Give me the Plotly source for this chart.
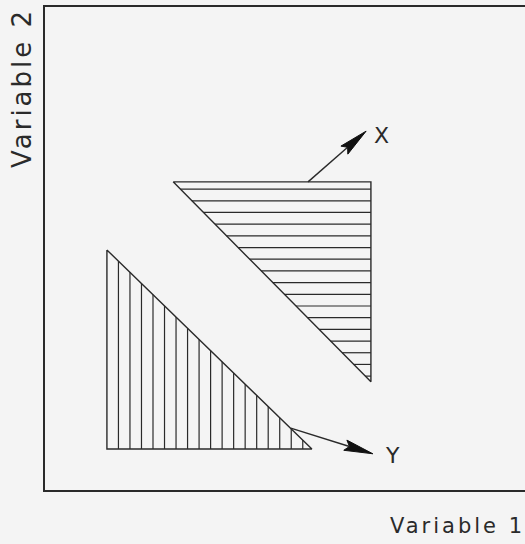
import plotly.graph_objects as go
import numpy as np

# ---- data (diagram coordinates, axis units 0..10) ----
tri_x_x = [2.67, 6.79, 6.79]       # upper triangle "X" vertices
tri_x_y = [6.38, 6.38, 2.24]
tri_y_x = [1.29, 1.29, 5.56]       # lower triangle "Y" vertices
tri_y_y = [4.97, 0.85, 0.85]
arrow_x = [[5.48, 6.38], [6.69, 7.43]]   # tail, tip
arrow_y = [[5.12, 1.28], [6.83, 0.75]]
labels = ["X", "Y"]
label_pos = [[7.02, 7.35], [7.23, 0.72]]
axis_titles = ["Variable 1", "Variable 2"]

LINE = "#2a2a2a"
BG = "#f4f4f4"
FONT = "DejaVu Sans"

fig = go.Figure()

def outline(xs, ys):
    fig.add_trace(go.Scatter(x=xs + [xs[0]], y=ys + [ys[0]], mode="lines",
                             line=dict(color=LINE, width=1.4),
                             hoverinfo="skip", showlegend=False))

outline(tri_x_x, tri_x_y)
outline(tri_y_x, tri_y_y)

# horizontal hatching in upper triangle
hx, hy = [], []
top, bot = tri_x_y[0], tri_x_y[2]
xl, xr = tri_x_x[0], tri_x_x[1]
step = 0.242
yy = top - 0.15
while yy > bot + 0.08:
    xh = xl + (top - yy) * (xr - xl) / (top - bot)
    hx += [xh, xr, None]
    hy += [yy, yy, None]
    yy -= step
fig.add_trace(go.Scatter(x=hx, y=hy, mode="lines", line=dict(color=LINE, width=1.2),
                         hoverinfo="skip", showlegend=False))

# vertical hatching in lower triangle
vx, vy = [], []
x0, x1 = tri_y_x[0], tri_y_x[2]
ytop, ybot = tri_y_y[0], tri_y_y[1]
step = 0.24
xx = x0 + step
while xx < x1 - 0.1:
    yh = ytop - (xx - x0) * (ytop - ybot) / (x1 - x0)
    vx += [xx, xx, None]
    vy += [ybot, yh, None]
    xx += step
fig.add_trace(go.Scatter(x=vx, y=vy, mode="lines", line=dict(color=LINE, width=1.2),
                         hoverinfo="skip", showlegend=False))


def arrow(tail, tip):
    tx, ty = tail
    px, py = tip
    d = np.array([px - tx, py - ty])
    L = np.hypot(*d)
    u = d / L
    n = np.array([-u[1], u[0]])
    hl, hw = 0.6, 0.11
    base = np.array([px, py]) - u * hl
    notch = np.array([px, py]) - u * hl * 0.85
    fig.add_trace(go.Scatter(x=[tx, notch[0]], y=[ty, notch[1]], mode="lines",
                             line=dict(color=LINE, width=1.4),
                             hoverinfo="skip", showlegend=False))
    p1 = base + n * hw
    p2 = base - n * hw
    fig.add_trace(go.Scatter(x=[px, p1[0], notch[0], p2[0], px],
                             y=[py, p1[1], notch[1], p2[1], py],
                             mode="lines", fill="toself", fillcolor="#111",
                             line=dict(color="#111", width=1),
                             hoverinfo="skip", showlegend=False))

arrow(arrow_x[0], arrow_x[1])
arrow(arrow_y[0], arrow_y[1])

for lab, (lx, ly) in zip(labels, label_pos):
    fig.add_annotation(x=lx, y=ly, text=lab, showarrow=False,
                       font=dict(family=FONT, size=22, color=LINE))

# axis titles positioned in pixels
fig.add_annotation(xref="paper", yref="paper", x=(403 - 45) / 480, y=(490 - 526) / 483,
                   xanchor="left", yanchor="middle", text=axis_titles[0],
                   showarrow=False, font=dict(family=FONT, size=21, color=LINE))
fig.add_annotation(xref="paper", yref="paper", x=(22 - 45) / 480, y=(490 - 155) / 483,
                   xanchor="center", yanchor="bottom", textangle=-90, text=axis_titles[1],
                   showarrow=False, font=dict(family=FONT, size=26, color=LINE))

fig.update_xaxes(range=[0, 10], showgrid=False, zeroline=False, showticklabels=False,
                 ticks="", showline=True, linecolor=LINE, linewidth=1.5, mirror=True)
fig.update_yaxes(range=[0, 10], showgrid=False, zeroline=False, showticklabels=False,
                 ticks="", showline=True, linecolor=LINE, linewidth=1.5)

fig.update_layout(width=525, height=544, margin=dict(l=45, r=0, t=7, b=54),
                  paper_bgcolor=BG, plot_bgcolor=BG, showlegend=False)

post = (
    "document.body.style.margin='0';"
    "document.body.style.background='%s';"
    "document.querySelectorAll('.annotation-text').forEach(function(e){"
    "var t=e.textContent; if(t.indexOf('Variable')===0){e.style.letterSpacing='3px';}});" % BG
)
fig.write_html("out.html", post_script=post, config={"displayModeBar": False})
